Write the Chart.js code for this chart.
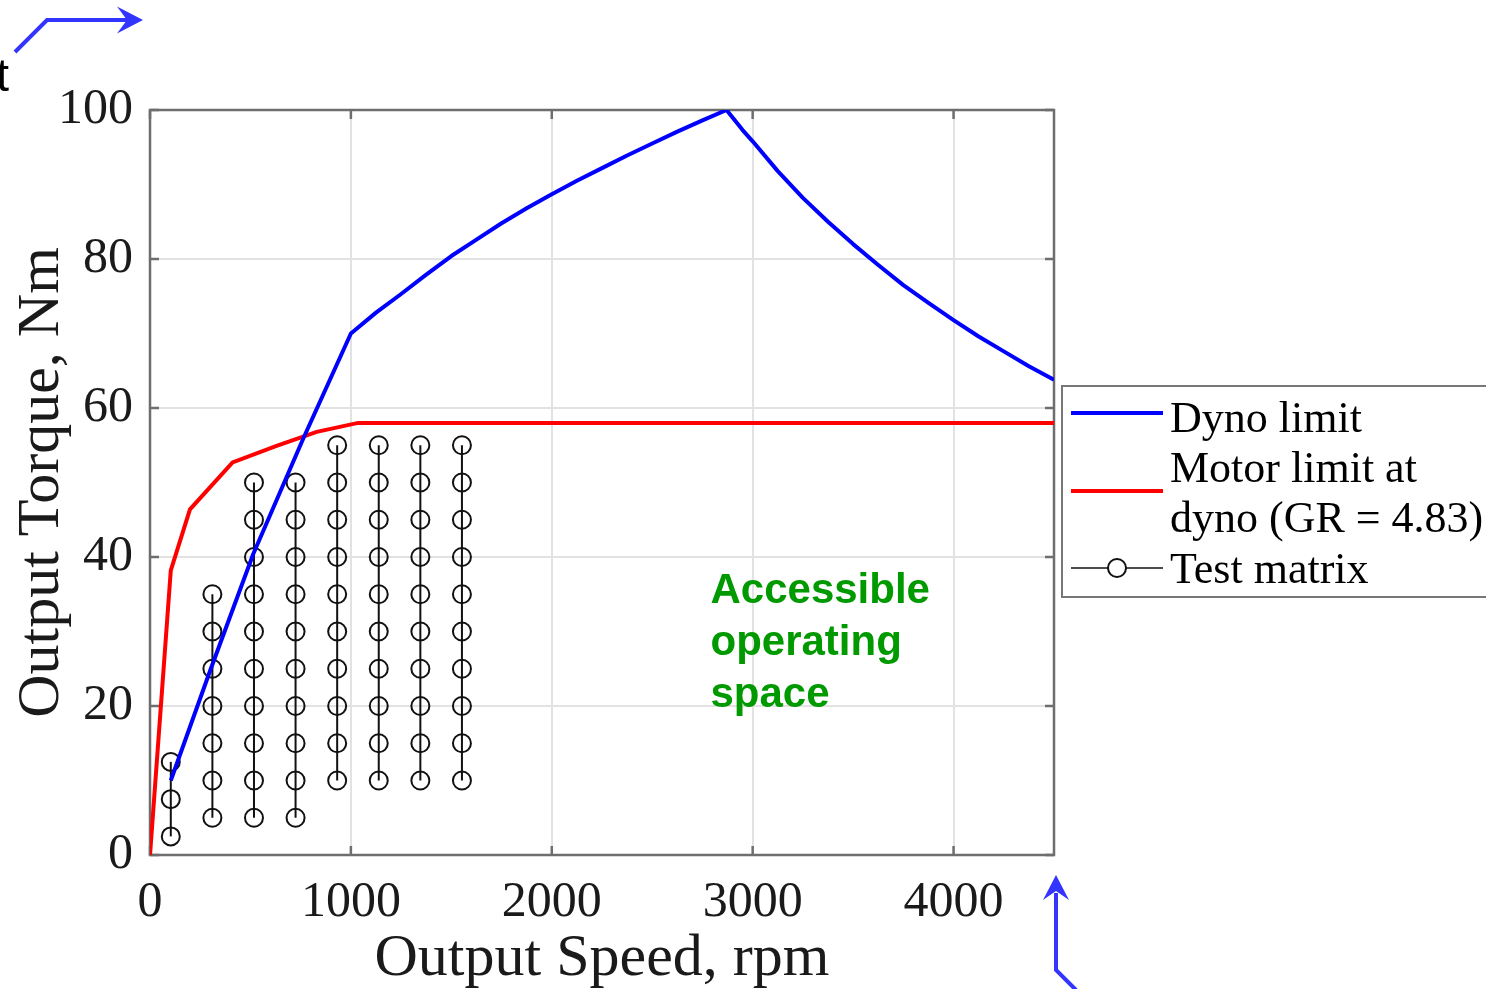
<!DOCTYPE html>
<html>
<head>
<meta charset="utf-8">
<script src="https://cdn.jsdelivr.net/npm/chart.js@4.4.1/dist/chart.umd.min.js"></script>
<style>
  html, body { margin: 0; padding: 0; background: #fff; overflow: hidden; }
  #wrap { width: 1486px; height: 989px; position: relative; }
</style>
</head>
<body>
<div id="wrap"><canvas id="c" width="1486" height="989"></canvas></div>
<script>
// Axis ticks
const speedTicks = [0, 1000, 2000, 3000, 4000];
const torqueTicks = [0, 20, 40, 60, 80, 100];

// Dyno torque limit vs. output speed
const dynoSpeed  = [103.5, 300, 514, 763, 1000, 1125, 1250, 1375, 1500, 1625, 1750, 1875, 2000, 2125, 2250, 2375, 2500, 2625, 2750, 2870,
                    2950, 3000, 3125, 3250, 3375, 3500, 3625, 3750, 3875, 4000, 4125, 4250, 4375, 4500];
const dynoTorque = [10, 24.8, 40.4, 55.9, 70, 72.8, 75.3, 77.9, 80.4, 82.6, 84.8, 86.8, 88.7, 90.5, 92.2, 93.9, 95.5, 97.1, 98.6, 100,
                    97.3, 95.8, 91.8, 88.2, 85, 82, 79.2, 76.5, 74.1, 71.8, 69.6, 67.6, 65.6, 63.8];

// Motor torque limit referred to the dyno shaft
const motorSpeed  = [0, 103.5, 199, 411, 630, 830, 1036, 4500];
const motorTorque = [0, 38.2, 46.4, 52.7, 54.9, 56.8, 58, 58];

// Test matrix: one column of torque set-points per speed
const matrixSpeed = [103.5, 310.6, 517.6, 724.6, 931.7, 1138.7, 1345.8, 1552.8];
const matrixTorque = [
  [2.5, 7.5, 12.5],
  [5, 10, 15, 20, 25, 30, 35],
  [5, 10, 15, 20, 25, 30, 35, 40, 45, 50],
  [5, 10, 15, 20, 25, 30, 35, 40, 45, 50],
  [10, 15, 20, 25, 30, 35, 40, 45, 50, 55],
  [10, 15, 20, 25, 30, 35, 40, 45, 50, 55],
  [10, 15, 20, 25, 30, 35, 40, 45, 50, 55],
  [10, 15, 20, 25, 30, 35, 40, 45, 50, 55]
];

const seriesLabels = ['Dyno limit', ['Motor limit at', 'dyno (GR = 4.83)'], 'Test matrix'];
const regionLabel = ['Accessible', 'operating', 'space'];

const SERIF = '"Liberation Serif", "Times New Roman", serif';
const SANS = '"Liberation Sans", Arial, sans-serif';

const toPoints = (xs, ys) => xs.map((x, i) => ({ x: x, y: ys[i] }));

const datasets = [
  {
    label: 'Dyno limit',
    data: toPoints(dynoSpeed, dynoTorque),
    showLine: true, borderColor: '#0000ff', borderWidth: 4,
    pointRadius: 0, tension: 0, order: 0, borderJoinStyle: 'round'
  },
  {
    label: 'Motor limit at dyno (GR = 4.83)',
    data: toPoints(motorSpeed, motorTorque),
    showLine: true, borderColor: '#ff0000', borderWidth: 4,
    pointRadius: 0, tension: 0, order: 1
  }
];
matrixSpeed.forEach((s, i) => {
  datasets.push({
    label: 'Test matrix',
    data: matrixTorque[i].map(t => ({ x: s, y: t })),
    showLine: true, borderColor: '#111', borderWidth: 2,
    pointRadius: 9, pointBorderWidth: 2,
    pointBorderColor: '#111', pointBackgroundColor: 'rgba(0,0,0,0)',
    tension: 0, order: 2
  });
});

// Plot box with inward tick marks on all four sides
const framePlugin = {
  id: 'frame',
  beforeDatasetsDraw(chart) {
    const { ctx, chartArea: a, scales: { x, y } } = chart;
    ctx.save();
    ctx.strokeStyle = '#6e6e6e';
    ctx.lineWidth = 2.5;
    ctx.strokeRect(a.left, a.top, a.right - a.left, a.bottom - a.top);
    const L = 9;
    ctx.beginPath();
    speedTicks.forEach(v => {
      const px = x.getPixelForValue(v);
      ctx.moveTo(px, a.bottom); ctx.lineTo(px, a.bottom - L);
      ctx.moveTo(px, a.top); ctx.lineTo(px, a.top + L);
    });
    torqueTicks.forEach(v => {
      const py = y.getPixelForValue(v);
      ctx.moveTo(a.left, py); ctx.lineTo(a.left + L, py);
      ctx.moveTo(a.right, py); ctx.lineTo(a.right - L, py);
    });
    ctx.stroke();
    ctx.restore();
  }
};

function arrowHead(ctx, tipX, tipY, dirX, dirY, len, half, notch) {
  const nx = -dirY, ny = dirX;
  const bx = tipX - dirX * len, by = tipY - dirY * len;
  ctx.beginPath();
  ctx.moveTo(tipX, tipY);
  ctx.lineTo(bx + nx * half, by + ny * half);
  ctx.lineTo(tipX - dirX * (len - notch), tipY - dirY * (len - notch));
  ctx.lineTo(bx - nx * half, by - ny * half);
  ctx.closePath();
  ctx.fill();
}

// Legend, region label and call-out arrows
const overlayPlugin = {
  id: 'overlay',
  afterDraw(chart) {
    const { ctx, scales: { x, y } } = chart;
    const ds = chart.data.datasets;
    ctx.save();

    // legend box
    const bx = 1062, by = 386, bw = 440, bh = 211;
    ctx.fillStyle = '#fff';
    ctx.fillRect(bx, by, bw, bh);
    ctx.strokeStyle = '#777';
    ctx.lineWidth = 2;
    ctx.strokeRect(bx, by, bw, bh);

    const sx0 = 1071, sx1 = 1163, tx = 1170;
    ctx.lineCap = 'butt';
    // dyno sample
    ctx.strokeStyle = ds[0].borderColor; ctx.lineWidth = ds[0].borderWidth;
    ctx.beginPath(); ctx.moveTo(sx0, 413); ctx.lineTo(sx1, 413); ctx.stroke();
    // motor sample
    ctx.strokeStyle = ds[1].borderColor; ctx.lineWidth = ds[1].borderWidth;
    ctx.beginPath(); ctx.moveTo(sx0, 491); ctx.lineTo(sx1, 491); ctx.stroke();
    // test matrix sample
    ctx.strokeStyle = ds[2].borderColor; ctx.lineWidth = 1.6;
    ctx.beginPath(); ctx.moveTo(sx0, 568); ctx.lineTo(sx1, 568); ctx.stroke();
    ctx.fillStyle = '#fff';
    ctx.lineWidth = ds[2].pointBorderWidth;
    ctx.beginPath(); ctx.arc((sx0 + sx1) / 2, 568, ds[2].pointRadius, 0, Math.PI * 2);
    ctx.fill(); ctx.stroke();

    ctx.fillStyle = '#000';
    ctx.font = '44px ' + SERIF;
    ctx.textAlign = 'left';
    ctx.textBaseline = 'alphabetic';
    ctx.fillText(seriesLabels[0], tx, 432);
    ctx.fillText(seriesLabels[1][0], tx, 482);
    ctx.fillText(seriesLabels[1][1], tx, 532);
    ctx.fillText(seriesLabels[2], tx, 583);

    // region annotation placed in data coordinates
    ctx.fillStyle = '#009a00';
    ctx.font = 'bold 42px ' + SANS;
    ctx.textBaseline = 'middle';
    const gx = x.getPixelForValue(2790);
    const gy = y.getPixelForValue(35.4);
    regionLabel.forEach((t, i) => ctx.fillText(t, gx, gy + i * 52));

    // call-out arrows
    const blue = '#3434ff';
    ctx.strokeStyle = blue; ctx.fillStyle = blue;
    ctx.lineWidth = 4; ctx.lineJoin = 'miter';
    ctx.beginPath();
    ctx.moveTo(15, 52); ctx.lineTo(47, 20); ctx.lineTo(128, 20);
    ctx.stroke();
    arrowHead(ctx, 143, 20, 1, 0, 26, 13.5, 10);

    ctx.beginPath();
    ctx.moveTo(1076, 990); ctx.lineTo(1056, 970); ctx.lineTo(1056, 893);
    ctx.stroke();
    arrowHead(ctx, 1056, 875, 0, -1, 25, 13, 9);

    // clipped caption fragment at the top-left
    ctx.fillStyle = '#000';
    ctx.font = '46px ' + SANS;
    ctx.textAlign = 'right';
    ctx.textBaseline = 'alphabetic';
    ctx.fillText('t', 9, 91);

    ctx.restore();
  }
};

new Chart(document.getElementById('c'), {
  type: 'scatter',
  data: { datasets: datasets },
  options: {
    responsive: false,
    animation: false,
    events: [],
    layout: { padding: { left: 0, top: 110, right: 432, bottom: 0 } },
    plugins: { legend: { display: false }, tooltip: { enabled: false } },
    scales: {
      x: {
        type: 'linear', min: 0, max: 4500,
        afterBuildTicks: s => { s.ticks = speedTicks.map(v => ({ value: v })); },
        afterFit: s => { s.height = 134; },
        grid: { color: '#e2e2e2', lineWidth: 2, drawTicks: false },
        border: { display: false },
        ticks: { font: { family: SERIF, size: 50 }, color: '#1a1a1a', padding: 18, maxRotation: 0,
                 callback: v => String(v) },
        title: { display: true, text: 'Output Speed, rpm', color: '#1a1a1a',
                 font: { family: SERIF, size: 60, lineHeight: 1 }, padding: { top: 0, bottom: 0 } }
      },
      y: {
        type: 'linear', min: 0, max: 100,
        afterBuildTicks: s => { s.ticks = torqueTicks.map(v => ({ value: v })); },
        afterFit: s => { s.width = 150; },
        grid: { color: '#e2e2e2', lineWidth: 2, drawTicks: false },
        border: { display: false },
        ticks: { font: { family: SERIF, size: 50 }, color: '#1a1a1a', padding: 17,
                 callback: v => String(v) },
        title: { display: true, text: 'Output Torque, Nm', color: '#1a1a1a',
                 font: { family: SERIF, size: 60, lineHeight: 1 }, padding: { top: 12, bottom: 0 } }
      }
    }
  },
  plugins: [framePlugin, overlayPlugin]
});
</script>
</body>
</html>
